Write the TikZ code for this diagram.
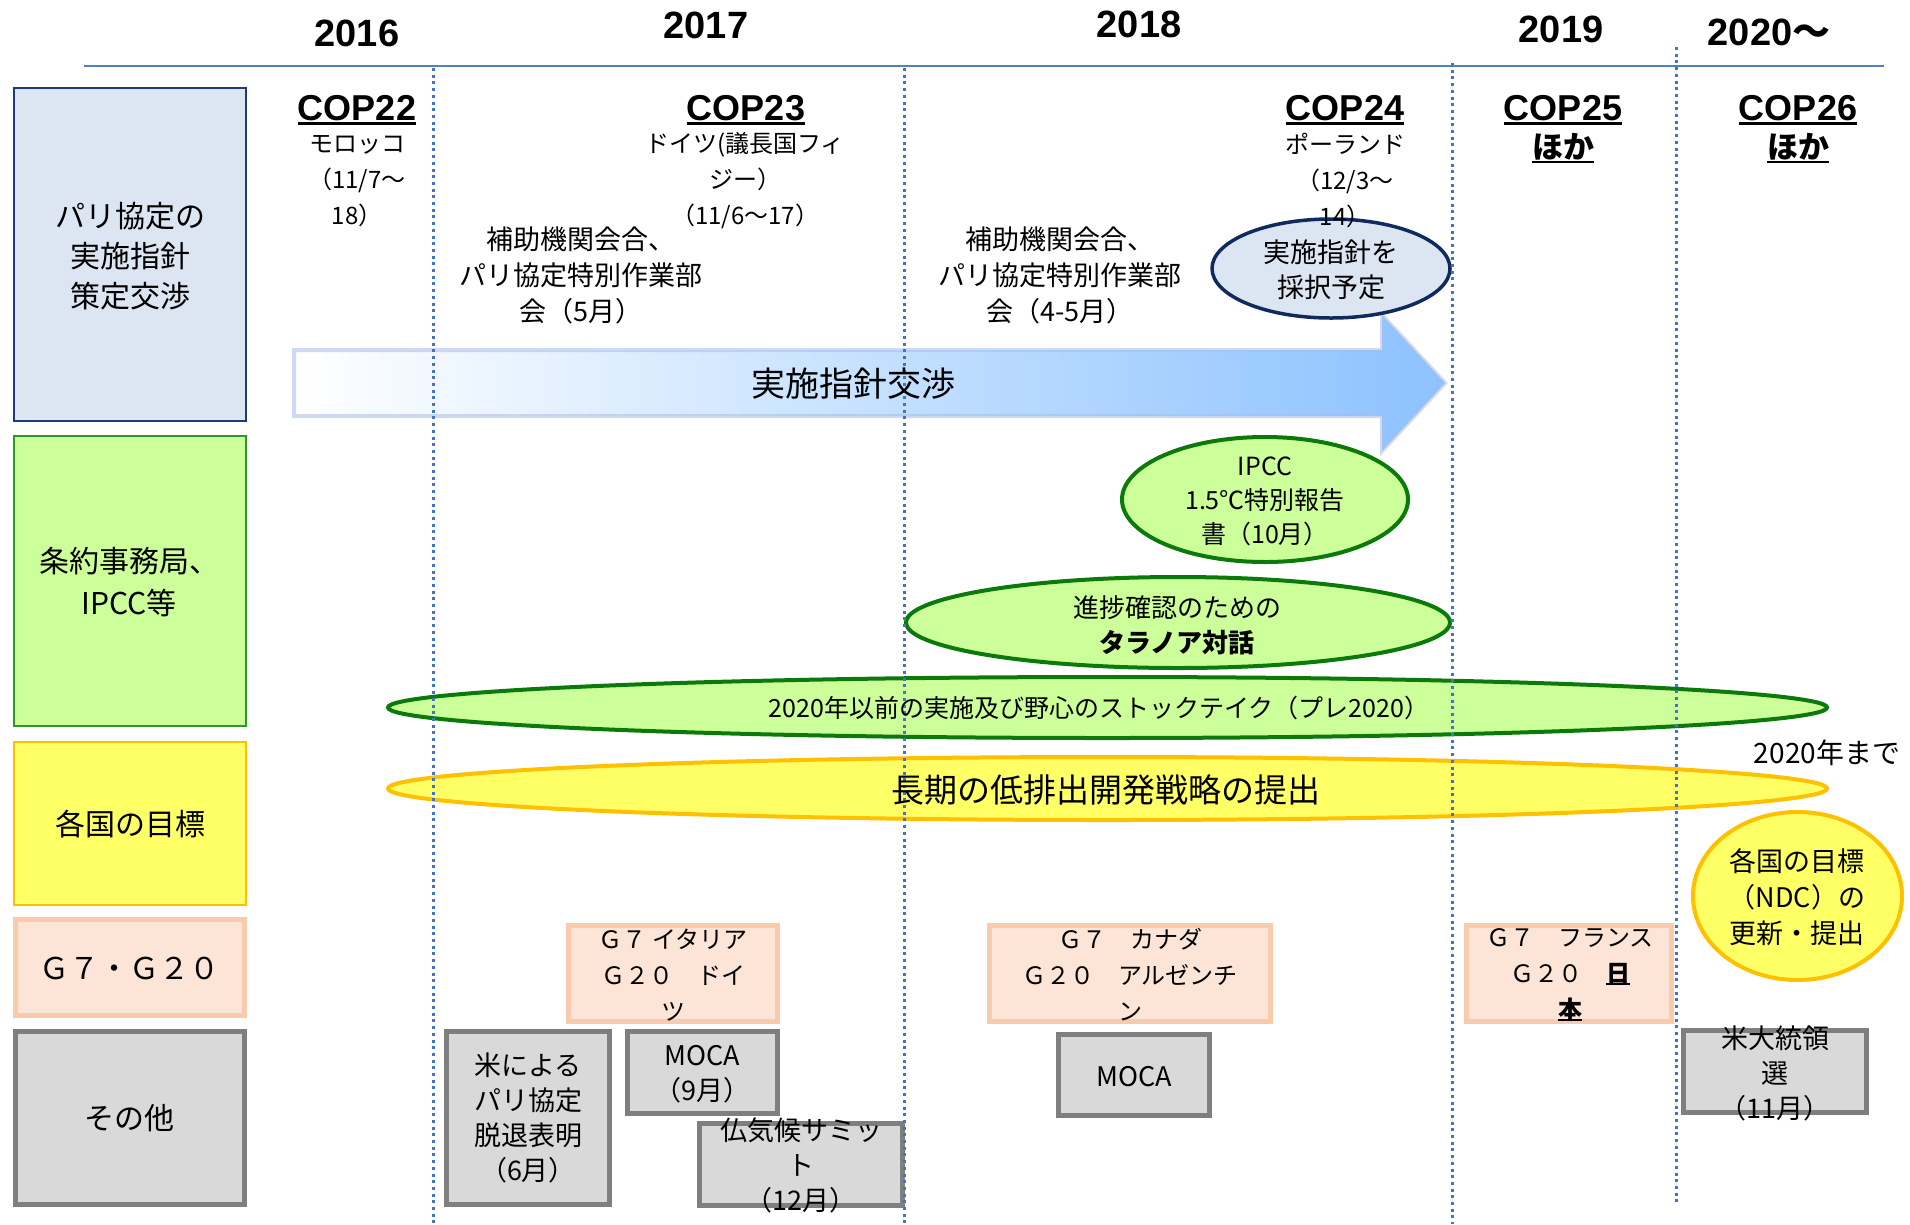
\documentclass[tikz,border=0pt]{standalone}
\usepackage{fontspec}
\setmainfont{Noto Sans CJK JP}
\newfontfamily\latb{Liberation Sans}
\usetikzlibrary{shapes.geometric}
\definecolor{catAfill}{HTML}{DCE6F2}
\definecolor{catAline}{HTML}{1F3A78}
\definecolor{adoptline}{HTML}{102A60}
\definecolor{greenfill}{HTML}{CCFF99}
\definecolor{catBline}{HTML}{2A9A2A}
\definecolor{ovalgreen}{HTML}{0B7A0B}
\definecolor{yellowfill}{HTML}{FFFF66}
\definecolor{yellowline}{HTML}{FFC000}
\definecolor{peachfill}{HTML}{FCE4D6}
\definecolor{peachline}{HTML}{F8CBAD}
\definecolor{grayfill}{HTML}{D9D9D9}
\definecolor{grayline}{HTML}{7F7F7F}
\definecolor{axisblue}{HTML}{4F81BD}
\definecolor{dotblue}{HTML}{4472C4}
\definecolor{arrowright}{HTML}{8CC2FF}
\definecolor{arrowline}{HTML}{A8BDE8}
\newcommand\undl[2]{\setbox0\hbox{#2}\rlap{\raisebox{-#1}{\rule{\wd0}{2.3pt}}}\box0}
\begin{document}
\begin{tikzpicture}[x=1pt,y=-1pt,
  tx/.style={align=center,inner sep=0pt,text=black},
  f24/.style={tx,font=\fontsize{24}{36}\selectfont},
  f25/.style={tx,font=\fontsize{25}{34}\selectfont},
  f26/.style={tx,font=\fontsize{26}{35}\selectfont},
  f27/.style={tx,font=\fontsize{27}{35}\selectfont},
  f28/.style={tx,font=\fontsize{28}{36}\selectfont},
  f30/.style={tx,font=\fontsize{30}{40}\selectfont},
  f33/.style={tx,font=\fontsize{33}{40}\selectfont},
  f34/.style={tx,font=\fontsize{34}{40}\selectfont},
  yr/.style={tx,font=\latb\bfseries\fontsize{38}{40}\selectfont},
  cop/.style={tx,anchor=base,font=\latb\bfseries\fontsize{36}{40}\selectfont},
  hoka/.style={tx,anchor=base,font=\bfseries\fontsize{31}{35}\selectfont},
  bx/.style={rectangle,inner sep=0pt},
  catbox/.style={bx,minimum width=232,line width=2pt},
  peachbox/.style={bx,fill=peachfill,draw=peachline,line width=5pt},
  graybox/.style={bx,fill=grayfill,draw=grayline,line width=5pt},
  oval/.style={ellipse,inner sep=0pt},
  greenoval/.style={oval,fill=greenfill,draw=ovalgreen,line width=4pt},
  yellowoval/.style={oval,fill=yellowfill,draw=yellowline,line width=4pt},
  dotl/.style={draw=dotblue,line width=3pt,dash pattern=on 3pt off 3.7pt},
]
\useasboundingbox (0,0) rectangle (1910,1224);
\fill[white] (0,0) rectangle (1910,1224);

% time axis
\coordinate (axL) at (84,66);
\coordinate (axR) at (1884,66);
\draw[draw=axisblue,line width=2.2pt] (axL) -- (axR);
\node[yr] (y2016) at (357,33) {2016};
\node[yr] (y2017) at (706,25) {2017};
\node[yr] (y2018) at (1139,24) {2018};
\node[yr] (y2019) at (1561,29) {2019};
\node[yr] (y2020) at (1769,32) {2020{\normalfont\bfseries ～}};

% category boxes
\node[catbox,fill=catAfill,draw=catAline,minimum height=333] (catA) at (130,254.5) {};
\node[catbox,fill=greenfill,draw=catBline,minimum height=290] (catB) at (130,581) {};
\node[catbox,fill=yellowfill,draw=yellowline,minimum height=163] (catC) at (130,823.5) {};
\node[peachbox,minimum width=229,minimum height=96] (catD) at (130,967.5) {};
\node[graybox,minimum width=229,minimum height=173] (catE) at (130,1118) {};

% big arrow
\draw[line width=4pt,draw=arrowline,draw opacity=0.55,left color=white,right color=arrowright,line join=miter]
  (294,350) -- (1382,350) -- (1382,315) -- (1445,383) -- (1382,451) -- (1382,416) -- (294,416) -- cycle;

% ovals
\node[oval,fill=catAfill,draw=adoptline,line width=3.5pt,minimum width=238,minimum height=99] (adopt) at (1331,268.5) {};
\node[greenoval,minimum width=286,minimum height=125] (ipcc) at (1265,499.5) {};
\node[greenoval,minimum width=544,minimum height=91] (talanoa) at (1178,622.5) {};
\node[greenoval,minimum width=1439,minimum height=61] (pre) at (1107.5,707.5) {};
\node[yellowoval,minimum width=1439,minimum height=63] (lts) at (1107.5,788.5) {};
\node[yellowoval,minimum width=209,minimum height=168] (ndc) at (1797.5,896) {};

% G7 / G20 boxes
\node[peachbox,minimum width=209,minimum height=96] (g7a) at (673,973.5) {};
\node[peachbox,minimum width=281,minimum height=96] (g7b) at (1130,973.5) {};
\node[peachbox,minimum width=205,minimum height=96] (g7c) at (1569,973.5) {};

% other boxes
\node[graybox,minimum width=163,minimum height=173] (usexit) at (528,1118) {};
\node[graybox,minimum width=150,minimum height=82] (moca1) at (702.5,1072.5) {};
\node[graybox,minimum width=203,minimum height=82] (summit) at (801,1164.5) {};
\node[graybox,minimum width=151,minimum height=81] (moca2) at (1134,1075) {};
\node[graybox,minimum width=183,minimum height=82] (uselect) at (1775,1071.5) {};

% dotted year separators
\coordinate (v1t) at (433,68);  \coordinate (v1b) at (433,1224);
\coordinate (v2t) at (904,68);  \coordinate (v2b) at (904,1224);
\coordinate (v3t) at (1452,63); \coordinate (v3b) at (1452,1224);
\coordinate (v4t) at (1676,47); \coordinate (v4b) at (1676,1204);
\draw[dotl] (v1t) -- (v1b);
\draw[dotl] (v2t) -- (v2b);
\draw[dotl] (v3t) -- (v3b);
\draw[dotl] (v4t) -- (v4b);

% category labels
\node[f30] (catAt) at (130,256) {パリ協定の\\実施指針\\策定交渉};
\node[f30,font=\fontsize{30}{42}\selectfont] (catBt) at (129,582) {条約事務局、\\IPCC等};
\node[f30] (catCt) at (130,824) {各国の目標};
\node[f30] (catDt) at (129,968) {Ｇ７・Ｇ２０};
\node[f30] (catEt) at (129,1118) {その他};

% COPs
\node[cop] (cop22) at (357,120) {\undl{4.5pt}{COP22}};
\node[f24] (cop22s) at (357,181) {モロッコ\\（11/7～\\18）};
\node[cop] (cop23) at (746,120) {\undl{4.5pt}{COP23}};
\node[f24] (cop23s) at (745,181) {ドイツ(議長国フィ\\ジー）\\（11/6～17）};
\node[cop] (cop24) at (1345,120) {\undl{4.5pt}{COP24}};
\node[f24] (cop24s) at (1345,180) {ポーランド\\（12/3～\\14）};
\node[cop] (cop25) at (1563,120) {\undl{4.5pt}{COP25}};
\node[hoka] (hoka25) at (1563,158) {\undl{5pt}{ほか}};
\node[cop] (cop26) at (1798,120) {\undl{4.5pt}{COP26}};
\node[hoka] (hoka26) at (1798,158) {\undl{5pt}{ほか}};

\node[f27,font=\fontsize{27}{36}\selectfont] (sub17) at (581,275) {補助機関会合、\\パリ協定特別作業部\\会（5月）};
\node[f27,font=\fontsize{27}{36}\selectfont] (sub18) at (1060,275) {補助機関会合、\\パリ協定特別作業部\\会（4-5月）};

% oval texts
\node[f34] (negot) at (853,384) {実施指針交渉};
\node[f27] (adoptt) at (1331,270) {実施指針を\\採択予定};
\node[f25] (ipcct) at (1265,501) {IPCC\\1.5℃特別報告\\書（10月）};
\node[f26] (talt) at (1177,625) {進捗確認のための\\\textbf{タラノア対話}};
\node[f25] (pret) at (1099,708) {2020年以前の実施及び野心のストックテイク（プレ2020）};
\node[f33] (ltst) at (1106,790) {長期の低排出開発戦略の提出};
\node[f28] (until) at (1827,753) {2020年まで};
\node[f27,font=\fontsize{27}{36}\selectfont] (ndct) at (1797,897) {各国の目標\\（NDC）の\\更新・提出};

% G7 texts
\node[f24] (g7at) at (673,975) {Ｇ７ イタリア\\Ｇ２０　ドイ\\ツ};
\node[f24] (g7bt) at (1130,975) {Ｇ７　カナダ\\Ｇ２０　アルゼンチ\\ン};
\node[f24] (g7ct) at (1570,975) {Ｇ７　フランス\\Ｇ２０　\textbf{\undl{3pt}{日}}\\\textbf{\undl{3pt}{本}}};

% other texts
\node[f27] (usexitt) at (528,1118) {米による\\パリ協定\\脱退表明\\（6月）};
\node[f27] (moca1t) at (702,1074) {MOCA\\（9月）};
\node[f27] (summitt) at (801,1165) {仏気候サミッ\\ト\\（12月）};
\node[f27] (moca2t) at (1134,1077) {MOCA};
\node[f27] (uselectt) at (1775,1073) {米大統領\\選\\（11月）};
\end{tikzpicture}
\end{document}
